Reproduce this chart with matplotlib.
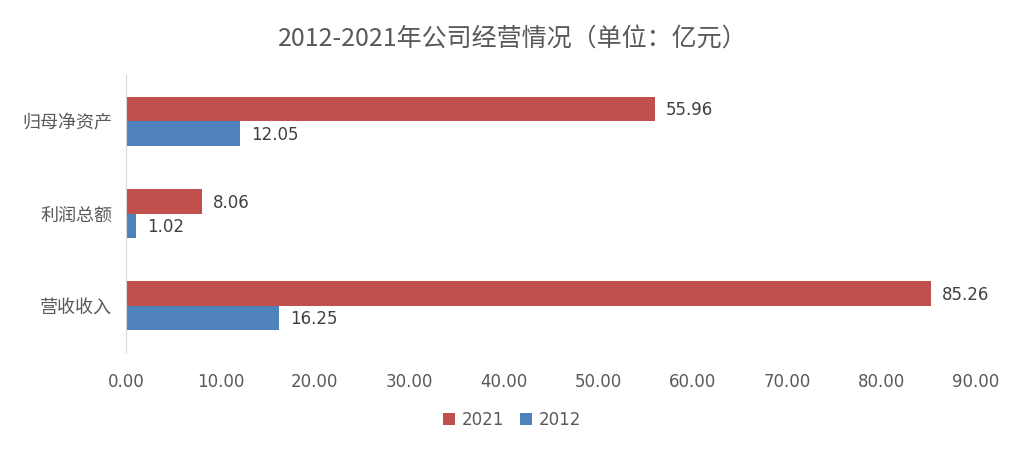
import matplotlib
matplotlib.use("Agg")
import matplotlib.pyplot as plt
import numpy as np
from matplotlib.font_manager import fontManager

plt.rcParams['font.family'] = ['Noto Sans CJK SC', 'DejaVu Sans']

categories = ["营收收入", "利润总额", "归母净资产"]
values_2021 = [85.26, 8.06, 55.96]
values_2012 = [16.25, 1.02, 12.05]
xticks = [0, 10, 20, 30, 40, 50, 60, 70, 80, 90]
title = "2012-2021年公司经营情况（单位：亿元）"

names = {f.name for f in fontManager.ttflist}
numfont = "Liberation Sans Narrow" if "Liberation Sans Narrow" in names else "DejaVu Sans"

red = "#C0504D"
blue = "#4F81BD"
txt = "#595959"

fig = plt.figure(figsize=(10.25, 4.51), dpi=100)
ax = fig.add_axes([126/1025, 1-352/451, 850/1025, 277/451])

y = np.arange(len(categories))
h = 0.265
b1 = ax.barh(y + h/2, values_2021, height=h, color=red, label="2021")
b2 = ax.barh(y - h/2, values_2012, height=h, color=blue, label="2012")

for bars, vals in ((b1, values_2021), (b2, values_2012)):
    for rect, v in zip(bars, vals):
        ax.annotate(f"{v:.2f}", (rect.get_width(), rect.get_y() + rect.get_height()/2),
                    xytext=(8, -1), textcoords="offset points", va="center", ha="left",
                    fontsize=12, color="#404040", family=numfont)

ax.set_xlim(0, 90)
ax.set_ylim(-0.5, 2.5)
ax.set_yticks(y)
ax.set_yticklabels(categories, fontsize=13, color=txt)
ax.set_xticks(xticks)
ax.set_xticklabels([f"{t:.2f}" for t in xticks], fontsize=12, color=txt, family=numfont)
for s in ("top", "right", "bottom"):
    ax.spines[s].set_visible(False)
ax.spines["left"].set_color("#D9D9D9")
ax.tick_params(axis="both", length=0)
ax.tick_params(axis="x", pad=15)
ax.tick_params(axis="y", pad=10)

fig.text(0.5, 1-39/451, title, ha="center", va="center", fontsize=18, color=txt)

leg = fig.legend(handles=[b1, b2], labels=["2021", "2012"], loc="center",
                 bbox_to_anchor=(512/1025, 1-420/451), ncol=2, frameon=False,
                 handlelength=0.7, handleheight=0.7, handletextpad=0.4, columnspacing=1.0,
                 prop={"family": numfont, "size": 12})
for t in leg.get_texts():
    t.set_color(txt)

fig.savefig("out.png", dpi=100)
